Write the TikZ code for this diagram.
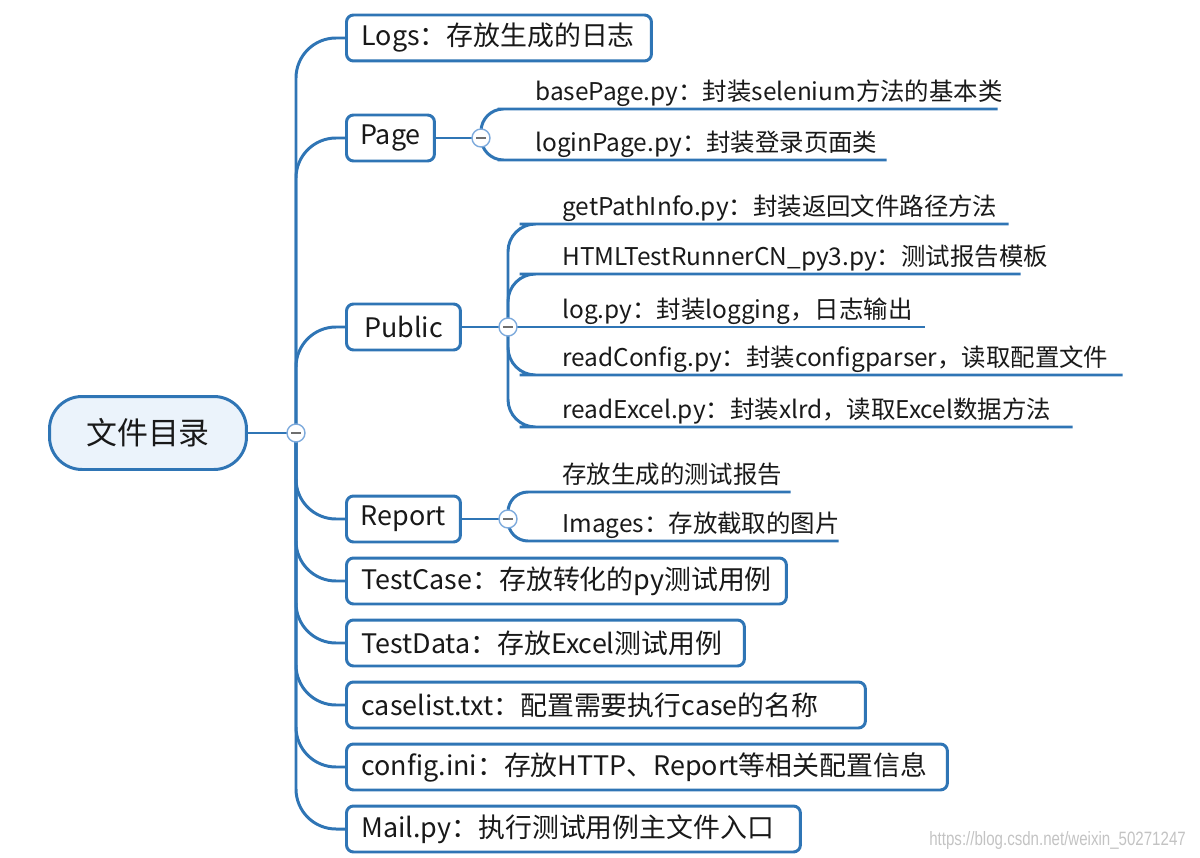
\documentclass[tikz,border=0pt]{standalone}
\usepackage{fontspec}
\setmainfont{Noto Sans CJK SC}
\newfontfamily\wmfont[FakeStretch=0.78]{Liberation Sans}
\usetikzlibrary{backgrounds}

\definecolor{mblue}{RGB}{47,117,181}
\definecolor{rootfill}{RGB}{235,243,251}
\definecolor{foldblue}{RGB}{125,170,220}
\definecolor{minusgray}{RGB}{110,110,110}
\definecolor{wmgray}{RGB}{195,195,195}
\definecolor{ink}{RGB}{25,25,25}

\tikzset{
  branch/.style={draw=mblue, line width=1.7pt},
  rootbox/.style={draw=mblue, line width=1.7pt, fill=rootfill, rounded corners=0.65cm,
    minimum width=3.94cm, minimum height=1.46cm, text=ink, font=\fontsize{17.6}{20}\selectfont},
  topic/.style={draw=mblue, line width=1.7pt, fill=white, rounded corners=4pt, anchor=west,
    minimum height=0.92cm, inner xsep=0.3cm, align=left, text=ink, font=\fontsize{15.3}{18}\selectfont},
  leaf/.style={anchor=south west, inner xsep=0.3cm, inner ysep=1.5pt, text depth=3pt,
    align=left, text=ink, font=\fontsize{13.9}{16}\selectfont},
  fold/.style={circle, draw=foldblue, fill=white, line width=0.8pt, minimum size=0.36cm, inner sep=0pt,
    path picture={\draw[minusgray, line width=0.8pt]
      ([xshift=-0.1cm]path picture bounding box.center) -- ([xshift=0.1cm]path picture bounding box.center);}}
}

\begin{document}
\begin{tikzpicture}[x=0.02cm,y=-0.02cm]
\useasboundingbox (0,0) rectangle (1200,858);

% root:
\node[rootbox] (root) at (148,433) {文件目录};
\node[fold] (rf) at (296,433) {};

% 1st tier:
\node[topic, text width=5.5cm] (logs) at (345,38) {Logs：存放生成的日志};
\node[topic, inner xsep=0.2cm, minimum width=1.76cm] (page) at (345,138) {Page};
\node[topic, inner xsep=0.2cm, minimum width=2.28cm] (public) at (345,327) {Public};
\node[topic, inner xsep=0.2cm, minimum width=2.28cm] (report) at (345,519) {Report};
\node[topic, text width=8.2cm] (testcase) at (345,581) {TestCase：存放转化的py测试用例};
\node[topic, text width=7.36cm] (testdata) at (345,643) {TestData：存放Excel测试用例};
\node[topic, text width=9.78cm] (caselist) at (345,705) {caselist.txt：配置需要执行case的名称};
\node[topic, text width=11.42cm] (config) at (345,767) {config.ini：存放HTTP、Report等相关配置信息};
\node[topic, text width=8.48cm] (mail) at (345,829) {Mail.py：执行测试用例主文件入口};

\node[fold] (pf) at (481,138) {};
\node[fold] (uf) at (508,327) {};
\node[fold] (rpf) at (508,519) {};

% 2nd tier: Page
\node[leaf, text width=8.94cm] (basepage) at (520,109) {basePage.py：封装selenium方法的基本类};
\node[leaf, text width=6.72cm] (loginpage) at (520,160) {loginPage.py：封装登录页面类};

% 2nd tier: Public
\node[leaf, text width=8.62cm] (getpath) at (547,224) {getPathInfo.py：封装返回文件路径方法};
\node[leaf, text width=8.86cm] (htmlrunner) at (547,274) {HTMLTestRunnerCN\_py3.py：测试报告模板};
\node[leaf, text width=6.94cm] (logpy) at (547,327) {log.py：封装logging，日志输出};
\node[leaf, text width=10.9cm] (readconfig) at (547,375) {readConfig.py：封装configparser，读取配置文件};
\node[leaf, text width=9.9cm] (readexcel) at (547,427) {readExcel.py：封装xlrd，读取Excel数据方法};

% 2nd tier: Report
\node[leaf, text width=4.26cm] (reports) at (547,492) {存放生成的测试报告};
\node[leaf, text width=5.22cm] (images) at (547,541) {Images：存放截取的图片};

\node[text=wmgray, font=\wmfont\fontsize{11}{13}\selectfont, anchor=east] (wm) at (1192,840)
  {https://blog.csdn.net/weixin\_50271247};

\begin{scope}[on background layer]
\draw[branch] (root.east) -- (rf.center);
\foreach \t in {logs,page,public,report,testcase,testdata,caselist,config,mail}
  \draw[branch, rounded corners=0.8cm] (rf.center) |- (\t.west);

\draw[branch] (page.east) -- (pf.center);
\draw[branch] (public.east) -- (uf.center);
\draw[branch] (report.east) -- (rpf.center);

\foreach \t in {basepage,loginpage}
  \draw[branch, rounded corners=0.45cm] (pf.center) |- (\t.south west) -- (\t.south east);
\foreach \t in {getpath,htmlrunner,readconfig,readexcel}
  \draw[branch, rounded corners=0.55cm] (uf.center) |- (\t.south west) -- (\t.south east);
\draw[branch] (uf.center) -- (logpy.south west) -- (logpy.south east);
\foreach \t in {reports,images}
  \draw[branch, rounded corners=0.4cm] (rpf.center) |- (\t.south west) -- (\t.south east);
\end{scope}

\end{tikzpicture}
\end{document}
